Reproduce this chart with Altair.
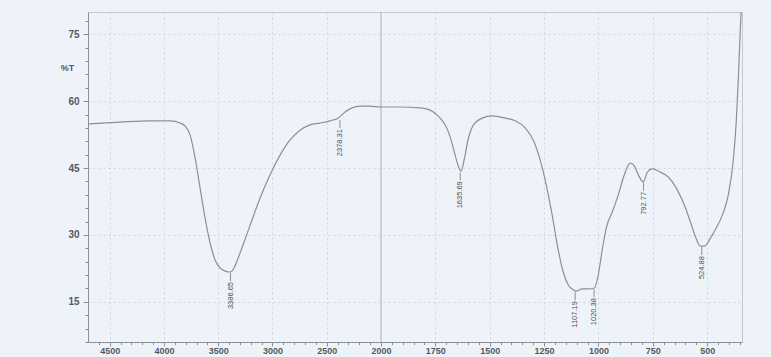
import altair as alt
import pandas as pd

# Spectrum trace (wavenumber cm-1, %T)
wavenumber = [4689, 4403, 4127, 3943, 3851, 3805, 3759, 3713, 3667, 3621, 3575, 3529, 3482, 3436,
              3390, 3354, 3317, 3271, 3206, 3114, 3022, 2930, 2838, 2746, 2654, 2562, 2470, 2396,
              2331, 2267, 2193, 2101, 2000, 1913, 1820, 1774, 1738, 1705, 1682, 1659, 1641, 1632,
              1618, 1600, 1572, 1535, 1489, 1429, 1383, 1337, 1300, 1268, 1240, 1213, 1185, 1162,
              1139, 1116, 1102, 1075, 1047, 1019, 1001, 983, 964, 936, 909, 881, 854, 835, 817,
              794, 775, 753, 716, 679, 642, 605, 577, 554, 531, 513, 485, 458, 430, 403, 380, 366,
              357, 348, 343]
transmittance = [54.9, 55.3, 55.6, 55.6, 55.1, 54.4, 52.4, 47.3, 40.5, 33.8, 28.2, 24.4, 22.6, 21.9,
                 21.7, 22.6, 24.8, 27.8, 32.2, 38.3, 43.5, 47.9, 51.3, 53.5, 54.7, 55.1, 55.6, 56.2,
                 57.6, 58.5, 58.9, 58.9, 58.7, 58.7, 58.5, 58.0, 56.7, 54.7, 52.0, 47.9, 45.0, 44.3,
                 46.8, 51.3, 54.9, 56.2, 56.7, 56.2, 55.6, 54.0, 51.3, 46.8, 41.2, 34.5, 26.6, 21.7,
                 18.8, 17.7, 17.4, 17.9, 17.9, 18.1, 21.0, 26.6, 31.6, 35.2, 39.0, 43.5, 46.1, 45.5,
                 43.5, 41.9, 44.1, 44.8, 44.1, 43.0, 40.5, 36.7, 32.9, 29.6, 27.5, 27.5, 29.3, 31.6,
                 34.5, 39.0, 46.8, 55.8, 64.8, 76.0, 81.0]

# Peak annotations
peak_wn = [3386.65, 2378.31, 1635.69, 1107.19, 1020.38, 792.77, 524.88]
peak_t = [21.7, 56.0, 44.3, 17.4, 18.1, 41.9, 27.5]
peak_label = ["3386.65", "2378.31", "1635.69", "1107.19", "1020.38", "792.77", "524.88"]

# Axis ticks
x_major = [4500, 4000, 3500, 3000, 2500, 2000, 1750, 1500, 1250, 1000, 750, 500]
x_minor = list(range(4600, 2000, -100)) + list(range(1950, 340, -50))
y_major = [15, 30, 45, 60, 75]
y_minor = list(range(6, 80, 3))

spec = pd.DataFrame({"wn": wavenumber, "t": transmittance})
peaks = pd.DataFrame({"wn": peak_wn, "t": peak_t, "label": peak_label})

ink = "#8c9096"
text_col = "#55595f"

x_scale = alt.Scale(domain=[4700, 2000, 340], range=[0, 293, 654], nice=False, zero=False)
y_scale = alt.Scale(domain=[6, 80], nice=False, zero=False)

x_vals = sorted(set(x_major + x_minor), reverse=True)
y_vals = sorted(set(y_major + y_minor))

x_major_test = "indexof([4500,4000,3500,3000,2500,2000,1750,1500,1250,1000,750,500], datum.value) >= 0"
y_major_test = "datum.value % 15 === 0"

x_axis = alt.Axis(
    values=x_vals, tickCount=500,
    labelExpr=f"{x_major_test} ? datum.value : ''",
    labelOverlap=False, labelBound=False,
    tickSize=alt.ConditionalAxisNumber(condition={"test": x_major_test, "value": 4}, value=2.5),
    grid=True,
    gridOpacity=alt.ConditionalAxisNumber(condition={"test": x_major_test + " && datum.value != 2000", "value": 1}, value=0),
    gridDash=[2, 3], gridColor="#c9ced6", gridWidth=0.8,
    title=None, labelFont="Liberation Sans", labelFontSize=9, labelFontWeight="bold",
    labelColor=text_col, labelPadding=0, labelBaseline="top", tickColor=ink, domainColor=ink, labelFlush=False,
)
y_axis = alt.Axis(
    values=y_vals, tickCount=500,
    labelExpr=f"{y_major_test} ? datum.value : ''",
    labelOverlap=False, labelBound=False,
    tickSize=alt.ConditionalAxisNumber(condition={"test": y_major_test, "value": 5}, value=3),
    grid=True,
    gridOpacity=alt.ConditionalAxisNumber(condition={"test": y_major_test, "value": 1}, value=0),
    gridDash=[2, 3], gridColor="#c9ced6", gridWidth=0.8,
    title="%T", titleAngle=0, titleX=-21, titleY=55, titleAlign="center", titleBaseline="middle",
    titleFont="Liberation Sans", titleFontSize=9, titleFontWeight="bold", titleColor=text_col,
    labelFont="Liberation Sans", labelFontSize=10, labelFontWeight="bold",
    labelColor=text_col, labelPadding=4, tickColor=ink, domainColor=ink, labelFlush=False,
)

line = alt.Chart(spec).mark_line(color=ink, strokeWidth=1.2, clip=True, interpolate="monotone").encode(
    x=alt.X("wn:Q", scale=x_scale, axis=x_axis),
    y=alt.Y("t:Q", scale=y_scale, axis=y_axis),
    order=alt.Order("wn:Q", sort="descending"),
)

brk = alt.Chart(pd.DataFrame({"wn": [2000]})).mark_rule(color="#a9adb3", strokeWidth=1).encode(
    x=alt.X("wn:Q", scale=x_scale)
)

ticks = alt.Chart(peaks).mark_rule(color="#6e7278", strokeWidth=0.8, yOffset=1, y2Offset=9).encode(
    x=alt.X("wn:Q", scale=x_scale),
    y=alt.Y("t:Q", scale=y_scale),
    y2="t:Q",
)

labels = alt.Chart(peaks).mark_text(
    angle=270, align="right", baseline="middle", yOffset=10, fontSize=7.5,
    font="Liberation Sans", color="#4a4e54",
).encode(
    x=alt.X("wn:Q", scale=x_scale),
    y=alt.Y("t:Q", scale=y_scale),
    text="label:N",
)

chart = alt.layer(brk, line, ticks, labels).properties(
    width=654, height=330,
    background="#eef3fa",
    autosize=alt.AutoSizeParams(type="none"),
    padding={"left": 88, "top": 12, "right": 29, "bottom": 15},
).configure_view(stroke="#c4c9d0", strokeWidth=1)

chart.save("out.html", embed_options={"renderer": "svg", "actions": False})
